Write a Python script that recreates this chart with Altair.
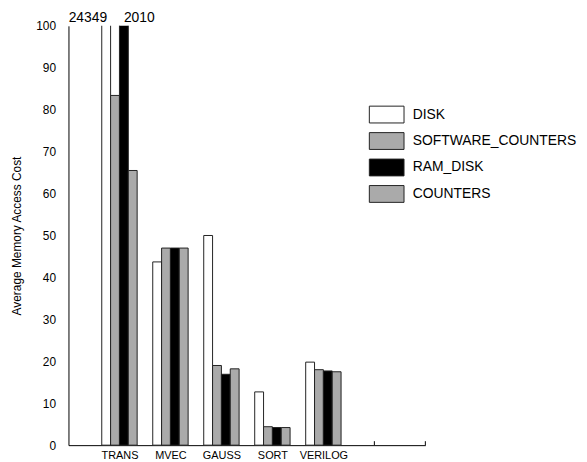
import json
import altair as alt
import pandas as pd

categories = ["TRANS", "MVEC", "GAUSS", "SORT", "VERILOG"]
series = ["DISK", "SOFTWARE_COUNTERS", "RAM_DISK", "COUNTERS"]
disk = [24349, 43.7, 50.0, 12.7, 19.8]
software_counters = [83.4, 47.0, 19.0, 4.4, 18.0]
ram_disk = [2010, 47.0, 16.9, 4.2, 17.7]
counters = [65.5, 47.0, 18.2, 4.2, 17.5]
colors = ["#ffffff", "#aaaaaa", "#000000", "#aaaaaa"]
tick_positions = [1, 2, 3, 4, 5, 6, 7]
y_ticks = [0, 10, 20, 30, 40, 50, 60, 70, 80, 90, 100]

rows = []
for i, c in enumerate(categories):
    for j, vals in enumerate([disk, software_counters, ram_disk, counters]):
        rows.append({"cat": c, "idx": i + 1, "series": series[j], "sidx": j, "value": vals[i]})
df = pd.DataFrame(rows)

W = 0.1735
FONT = "Liberation Sans"
xscale = alt.Scale(domain=[0, 7], nice=False, zero=False)
yscale = alt.Scale(domain=[0, 100], nice=False)

label_expr = (
    f"datum.value >= 1 && datum.value <= {len(categories)} ? "
    f"{json.dumps(categories)}[datum.value - 1] : ''"
)

base = alt.Chart(df).transform_calculate(
    x0=f"datum.idx + (datum.sidx - 2) * {W}",
    x1=f"datum.idx + (datum.sidx - 1) * {W}",
    xc=f"datum.idx + (datum.sidx - 1.5) * {W}",
)

ticks = alt.Chart(pd.DataFrame({"t": tick_positions})).mark_rule(color="black", strokeWidth=1).encode(
    x=alt.X("t:Q", scale=xscale),
    y=alt.value(423),
    y2=alt.value(419),
)

bars = base.mark_bar(clip=True, stroke="#222222", strokeWidth=1).encode(
    x=alt.X(
        "x0:Q",
        scale=xscale,
        axis=alt.Axis(
            values=tick_positions, labelExpr=label_expr, title=None, ticks=False, tickSize=0,
            grid=False, labelPadding=4, labelFontSize=11, labelFont=FONT, labelColor="black",
            domainColor="black", labelFlush=False, labelOverlap=False,
        ),
    ),
    x2="x1:Q",
    y=alt.Y(
        "value:Q",
        scale=yscale,
        axis=alt.Axis(
            values=y_ticks, title="Average Memory Access Cost", ticks=False, tickSize=0, grid=False,
            labelPadding=13, labelFontSize=12, labelFont=FONT, labelColor="black",
            titleFont=FONT, titleFontSize=12, titleFontWeight="normal", titleColor="black",
            titlePadding=12, domainColor="black",
        ),
    ),
    y2=alt.datum(0),
    fill=alt.Fill(
        "series:N",
        scale=alt.Scale(domain=series, range=colors),
        sort=series,
        legend=alt.Legend(
            title=None, orient="none", legendX=311.5, legendY=80,
            symbolType="M-2,-0.97H2V0.97H-2Z", symbolSize=306,
            symbolStrokeColor="#222222", symbolStrokeWidth=1, symbolOpacity=1,
            labelFont=FONT, labelFontSize=14, labelColor="black", labelOffset=16.75,
            labelLimit=0, rowPadding=5.7,
        ),
    ),
)

over = base.transform_filter("datum.value > 100")
text_right = over.transform_filter("datum.sidx == 0").mark_text(
    align="right", baseline="alphabetic", dx=1, fontSize=14, font=FONT, color="black"
).encode(x=alt.X("xc:Q", scale=xscale), y=alt.value(-4), text=alt.Text("value:Q", format="d"))
text_left = over.transform_filter("datum.sidx != 0").mark_text(
    align="left", baseline="alphabetic", dx=0, fontSize=14, font=FONT, color="black"
).encode(x=alt.X("xc:Q", scale=xscale), y=alt.value(-4), text=alt.Text("value:Q", format="d"))

chart = alt.layer(ticks, bars, text_right, text_left).properties(
    width=360,
    height=423,
    autosize=alt.AutoSizeParams(type="none"),
    padding={"left": 61, "top": 16, "right": 155, "bottom": 15},
).configure_view(stroke=None)

chart.save("out.html", embed_options={"renderer": "svg", "actions": False})
